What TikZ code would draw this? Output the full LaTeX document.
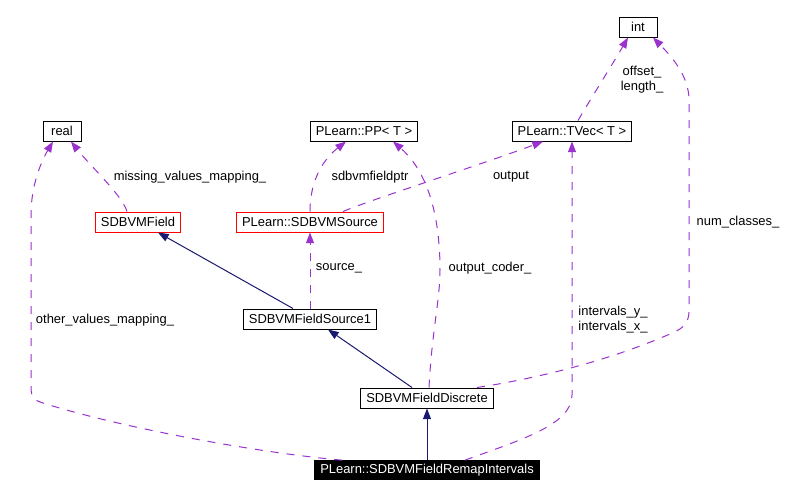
\documentclass[tikz,border=0pt]{standalone}
\usepackage{fontspec}
\setmainfont{Liberation Sans}
\usetikzlibrary{arrows.meta, calc}

\definecolor{usagecol}{HTML}{9A32CD}
\definecolor{inhcol}{HTML}{191970}

\begin{document}
\begin{tikzpicture}[
    x=0.75pt, y=-0.75pt,
    font=\fontsize{9.7pt}{11.25pt}\selectfont,
    cls/.style = {
        rectangle, draw=black, line width=0.75pt, fill=white,
        inner xsep=4.2pt, inner ysep=0pt,
        minimum height=15pt, minimum width=28.5pt
    },
    redcls/.style = {cls, draw=red},
    curcls/.style = {cls, fill=black, text=white, minimum height=14pt},
    lbl/.style = {align=center, inner sep=0pt},
    usage/.style = {-{Triangle[length=8pt, width=6pt]}, line width=0.75pt,
        draw=usagecol, dash pattern=on 6pt off 6pt},
    inherit/.style = {-{Triangle[length=8pt, width=6pt]}, line width=0.75pt,
        draw=inhcol}
]
\useasboundingbox (0,0) rectangle (790,497);

% Clases
\node[cls] (int) at (638,27) {int};
\node[cls] (real) at (62,131) {real};
\node[cls] (pp) at (364,131) {PLearn::PP< T >};
\node[cls] (tvec) at (572,131) {PLearn::TVec< T >};
\node[redcls] (field) at (138,222) {SDBVMField};
\node[redcls] (src) at (310,222) {PLearn::SDBVMSource};
\node[cls] (fsrc1) at (310,319) {SDBVMFieldSource1};
\node[cls] (disc) at (427,398) {SDBVMFieldDiscrete};
\node[curcls] (remap) at (427,470) {PLearn::SDBVMFieldRemapIntervals};

% Etiquetas
\node[lbl] (lmiss) at (190,177) {missing\_values\_mapping\_};
\node[lbl] (lptr) at (370,177) {sdbvmfieldptr};
\node[lbl] (lout) at (511,177) {output};
\node[lbl] (loffs) at (642,80) {offset\_\\length\_};
\node[lbl] (lsrc) at (339,268) {source\_};
\node[lbl] (lcoder) at (490,268) {output\_coder\_};
\node[lbl] (lnum) at (738,222) {num\_classes\_};
\node[lbl] (lint) at (613,320) {intervals\_y\_\\intervals\_x\_};
\node[lbl] (lother) at (105,320) {other\_values\_mapping\_};

% Herencia
\draw[inherit] ($(fsrc1.north)+(-17,0)$) -- ($(field.south)+(20,0)$);
\draw[inherit] ($(disc.north)+(-15,0)$) -- ($(fsrc1.south)+(18,0)$);
\draw[inherit] (remap.north) -- (disc.south);

% Uso
\draw[usage] ($(field.north)+(-11,0)$) .. controls (122,195) and (92,168) .. ($(real.south)+(9,0)$);
\draw[usage] (src.north) .. controls (310,178) and (325,158) .. ($(pp.south)+(-18,0)$);
\draw[usage] ($(src.north)+(33,0)$) .. controls (370,200) and (480,165) .. ($(tvec.south)+(-29,0)$);
\draw[usage] ($(disc.north)+(2,0)$) .. controls (432,330) and (440,300) .. (440,270)
    .. controls (440,200) and (420,165) .. ($(pp.south)+(29,0)$);
\draw[usage] ($(tvec.north)+(6,0)$) .. controls (590,100) and (615,60) .. ($(int.south)+(-10,0)$);
\draw[usage] ($(disc.north)+(50,0)$) .. controls (540,378) and (610,360) .. (670,334)
    .. controls (685,328) and (689,322) .. (689,310) -- (689,100)
    .. controls (689,75) and (670,55) .. ($(int.south)+(15,0)$);
\draw[usage] ($(remap.north)+(38,0)$) .. controls (520,440) and (572,425) .. (572,395) -- (tvec.south);
\draw[usage] ($(remap.north west)+(28,0)$) .. controls (250,452) and (110,425) .. (40,402)
    .. controls (32,399) and (31,395) .. (31,385) -- (31,215)
    .. controls (31,180) and (45,155) .. ($(real.south)+(-9,0)$);
\draw[usage] (fsrc1.north) -- (src.south);

\end{tikzpicture}
\end{document}
